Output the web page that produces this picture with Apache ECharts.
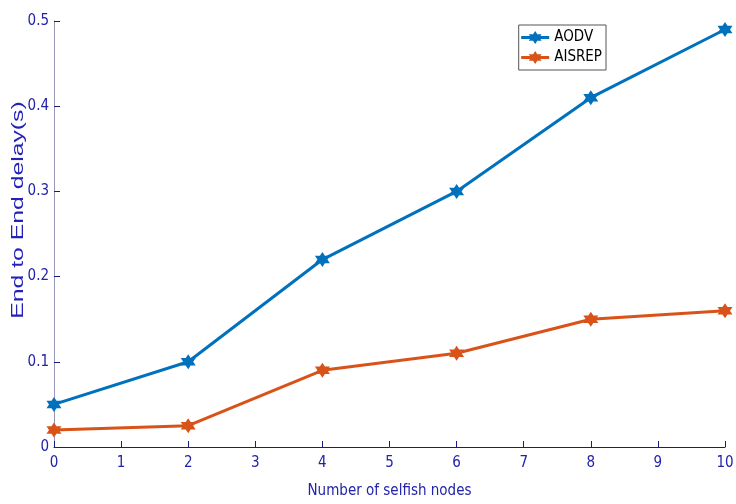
<!DOCTYPE html>
<html><head><meta charset="utf-8">
<script src="https://cdn.jsdelivr.net/npm/echarts@6/dist/echarts.min.js"></script>
<style>html,body{margin:0;padding:0;background:#fff}#c{width:736px;height:504px}</style>
</head><body><div id="c"></div>
<script>
var xValues = [0, 2, 4, 6, 8, 10];
var aodv = [0.05, 0.1, 0.22, 0.3, 0.41, 0.49];
var aisrep = [0.02, 0.025, 0.09, 0.11, 0.15, 0.16];
var seriesNames = ['AODV', 'AISREP'];
var xTitle = 'Number of selfish nodes';
var yTitle = 'End to End delay(s)';
var font = '"Liberation Sans Narrow", "DejaVu Sans Condensed", "Liberation Sans", Arial, sans-serif';
var star = 'path://M0,-10 L2.887,-5 L8.66,-5 L5.774,0 L8.66,5 L2.887,5 L0,10 L-2.887,5 L-8.66,5 L-5.774,0 L-8.66,-5 L-2.887,-5 Z';
var chart = echarts.init(document.getElementById('c'));
function pairs(arr){ return xValues.map(function(x,i){ return [x, arr[i]]; }); }
chart.setOption({
  animation: false,
  grid: {left: 54, right: 11, top: 21, bottom: 57, containLabel: false, outerBoundsMode: 'none'},
  graphic: [{
    type: 'text', x: 19, y: 210, rotation: Math.PI / 2, scaleX: 1.65, scaleY: 1.05,
    style: {text: yTitle, fill: '#2222bb', font: '15px "Liberation Sans", Arial, sans-serif',
            align: 'center', verticalAlign: 'middle'}
  }],
  legend: {
    right: 130, top: 25, orient: 'vertical',
    itemWidth: 28, itemHeight: 16, itemGap: 5,
    padding: [5, 4, 5, 1],
    borderColor: '#555', borderWidth: 1, backgroundColor: '#fff',
    lineStyle: {width: 3},
    textStyle: {fontFamily: font, fontSize: 15, color: '#000'},
    data: seriesNames
  },
  xAxis: {
    type: 'value', min: 0, max: 10, interval: 1,
    name: xTitle, nameLocation: 'middle', nameGap: 37, nameMoveOverlap: false,
    nameTextStyle: {fontFamily: font, fontSize: 15, color: '#2222aa'},
    axisLine: {lineStyle: {color: '#1a1a80', width: 1}},
    axisTick: {inside: true, length: 6, lineStyle: {color: '#1a1a80'}},
    axisLabel: {fontFamily: font, fontSize: 15, color: '#2222aa', margin: 9},
    splitLine: {show: false}
  },
  yAxis: {
    type: 'value', min: 0, max: 0.5, interval: 0.1,
    axisLine: {show: true, lineStyle: {color: '#9a9ab8', width: 1}},
    axisTick: {show: true, inside: true, length: 6, lineStyle: {color: '#1a1a80'}},
    axisLabel: {fontFamily: font, fontSize: 15, color: '#2222aa', margin: 5,
      formatter: function(v){ return v === 0 ? '0' : String(+v.toFixed(1)); }},
    splitLine: {show: false}
  },
  series: [
    {name: seriesNames[0], type: 'line', data: pairs(aodv), symbol: star, symbolSize: 15,
     lineStyle: {color: '#0072BD', width: 3}, itemStyle: {color: '#0072BD'}},
    {name: seriesNames[1], type: 'line', data: pairs(aisrep), symbol: star, symbolSize: 15,
     lineStyle: {color: '#D95319', width: 3}, itemStyle: {color: '#D95319'}}
  ]
});
</script></body></html>
